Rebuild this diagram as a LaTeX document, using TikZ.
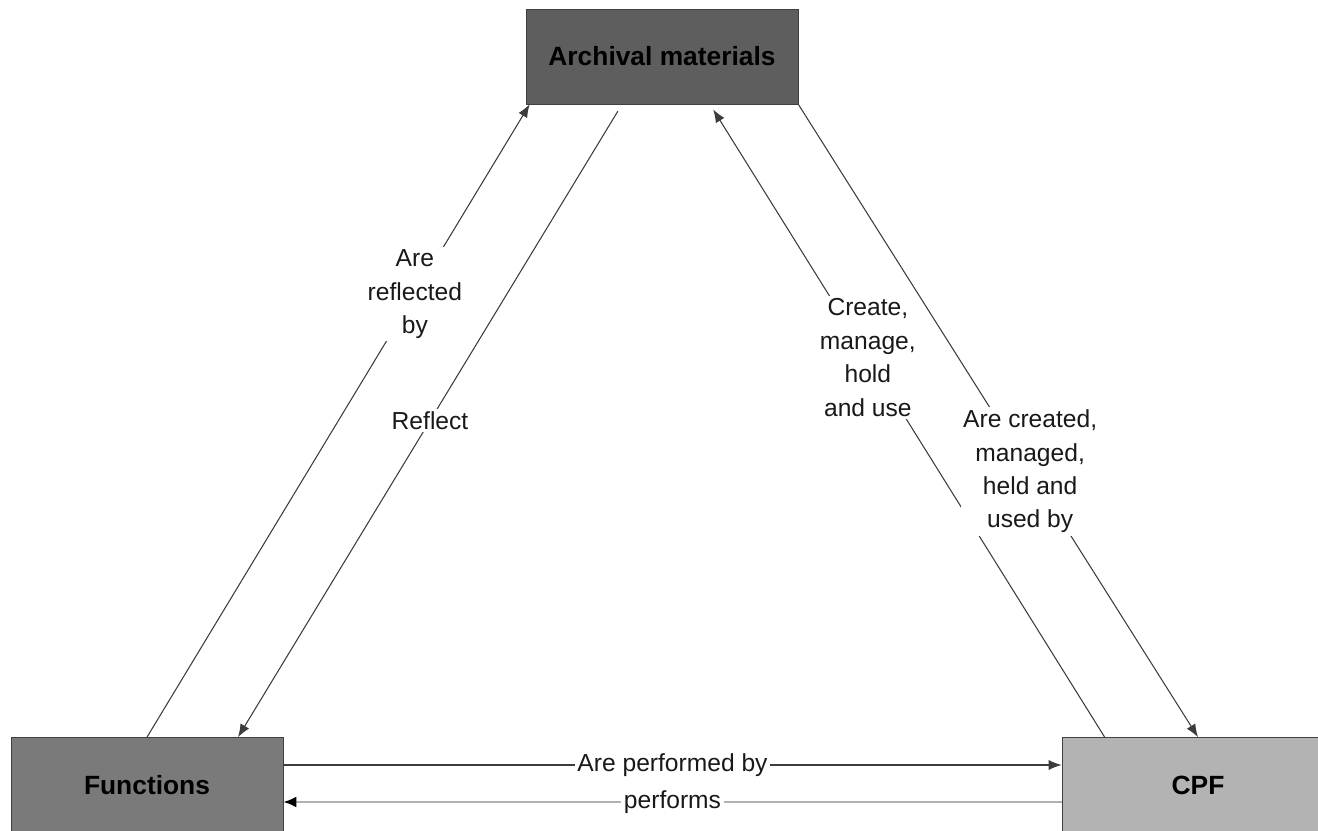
\documentclass[tikz,border=0pt]{standalone}
\usepackage{fontspec}
\setmainfont{Liberation Sans}
\usetikzlibrary{arrows.meta,positioning}
\definecolor{archgray}{HTML}{5E5E5E}
\definecolor{fungray}{HTML}{7A7A7A}
\definecolor{cpfgray}{HTML}{B3B3B3}
\definecolor{linegray}{HTML}{3C3C3C}

\begin{document}
\begin{tikzpicture}[
  entity/.style={draw=black!75, minimum width=54.4mm, minimum height=19mm,
                 font=\fontsize{15}{18}\selectfont\bfseries},
  link/.style={-{Latex[length=2.6mm,width=2mm]}, draw=linegray, line width=0.6pt},
  softlink/.style={-{Latex[length=2.6mm,width=2.2mm,color=black]},
                   draw=black!30, line width=1.3pt},
  tag/.style={fill=white, inner sep=1.5pt, align=center, text=black!90,
              font=\fontsize{14}{19}\selectfont},
]
  \useasboundingbox (0,0) rectangle (26.36,16.6);

  % The three entities.
  \node[entity, fill=archgray] (arch) at (13.24,15.47) {Archival materials};
  \node[entity, fill=fungray] (func) at (2.94,0.9) {Functions};
  \node[entity, fill=cpfgray] (cpf) at (23.96,0.9) {CPF};

  % Functions and archival materials.
  \draw[link] (func.north) -- ([xshift=0.8mm]arch.south west)
    node[tag, pos=0.7] {Are\\reflected\\by};
  \draw[link, shorten <=1.6mm] ([xshift=-8mm]arch.south) -- ([xshift=18.2mm]func.north)
    node[tag, midway] {Reflect};

  % CPF and archival materials.
  \draw[link, shorten >=1.2mm] ([xshift=8.6mm]cpf.north west) -- ([xshift=9.6mm]arch.south)
    node[tag, pos=0.6] {Create,\\manage,\\hold\\and use};
  \draw[link] (arch.south east) -- (cpf.north)
    node[tag, pos=0.58] {Are created,\\managed,\\held and\\used by};

  % Functions and CPF.
  \draw[link] ([yshift=4mm]func.east) -- ([yshift=4mm]cpf.west)
    node[tag, midway] {Are performed by};
  \draw[softlink] ([yshift=-3.4mm]cpf.west) -- ([yshift=-3.4mm]func.east)
    node[tag, midway] {performs};
\end{tikzpicture}
\end{document}
